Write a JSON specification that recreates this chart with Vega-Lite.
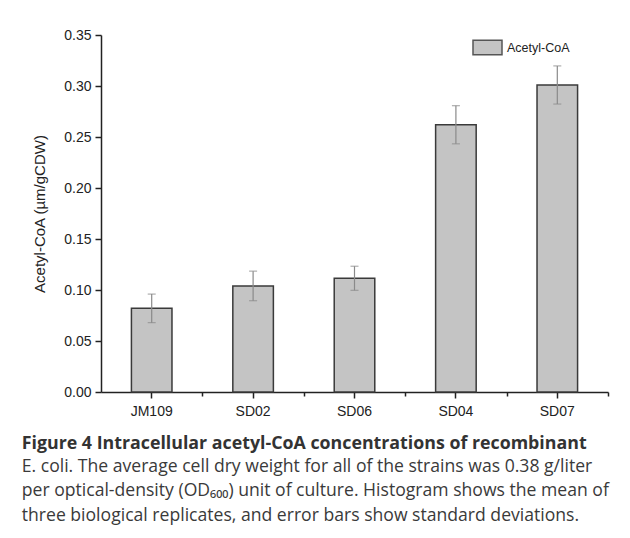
{
  "$schema": "https://vega.github.io/schema/vega-lite/v6.json",
  "autosize": "none",
  "width": 507,
  "height": 357,
  "padding": {"left": 101, "top": 35, "right": 22, "bottom": 146},
  "background": "white",
  "data": {"values": [
    {"strain": "JM109", "mean": 0.082, "sd": 0.014},
    {"strain": "SD02", "mean": 0.104, "sd": 0.0145},
    {"strain": "SD06", "mean": 0.1115, "sd": 0.0118},
    {"strain": "SD04", "mean": 0.262, "sd": 0.0187},
    {"strain": "SD07", "mean": 0.301, "sd": 0.0187}
  ]},
  "title": {
    "text": "Figure 4 Intracellular acetyl-CoA concentrations of recombinant",
    "subtitle": ["E. coli. The average cell dry weight for all of the strains was 0.38 g/liter", "per optical-density (OD₆₀₀) unit of culture. Histogram shows the mean of", "three biological replicates, and error bars show standard deviations."],
    "orient": "bottom",
    "anchor": "start",
    "frame": "bounds",
    "offset": 17,
    "dx": -11,
    "font": "Open Sans",
    "fontSize": 17.8,
    "fontWeight": "bold",
    "color": "#333333",
    "subtitleFont": "Open Sans",
    "subtitleFontSize": 17.6,
    "subtitleColor": "#3a3a3a",
    "subtitleLineHeight": 24.5,
    "subtitlePadding": 5
  },
  "layer": [
    {
      "mark": {"type": "bar", "stroke": "#3a3a3a", "strokeWidth": 1.5},
      "encoding": {
        "x": {
          "field": "strain",
          "type": "nominal",
          "sort": null,
          "scale": {"paddingInner": 0.6, "paddingOuter": 0.3},
          "axis": {
            "orient": "bottom",
            "title": null,
            "labelAngle": 0,
            "labelFont": "Liberation Sans",
            "labelFontSize": 14,
            "labelColor": "#222222",
            "labelPadding": 6,
            "tickSize": 6,
            "tickColor": "#222222",
            "tickWidth": 1.5,
            "domainColor": "#222222",
            "domainWidth": 1.5
          }
        },
        "y": {
          "field": "mean",
          "type": "quantitative",
          "title": "Acetyl-CoA (µm/gCDW)",
          "scale": {"domain": [0, 0.35], "nice": false},
          "axis": {
            "titleFont": "Liberation Sans",
            "titleFontSize": 15,
            "titleFontWeight": "normal",
            "titleColor": "#222222",
            "titlePadding": 16,
            "values": [0, 0.025, 0.05, 0.075, 0.1, 0.125, 0.15, 0.175, 0.2, 0.225, 0.25, 0.275, 0.3, 0.325, 0.35],
            "labelExpr": "round(datum.value*1000) % 50 === 0 ? format(datum.value, '.2f') : ''",
            "labelFont": "Liberation Sans",
            "labelFontSize": 14,
            "labelColor": "#222222",
            "labelPadding": 4,
            "tickSize": {"condition": {"test": "round(datum.value*1000) % 50 === 0", "value": 6}, "value": 3.5},
            "tickColor": "#222222",
            "tickWidth": 1.5,
            "domainColor": "#222222",
            "domainWidth": 1.5,
            "grid": false
          }
        },
        "color": {
          "datum": "Acetyl-CoA",
          "type": "nominal",
          "scale": {"range": ["#c4c4c4"]},
          "legend": {
            "title": null,
            "orient": "none",
            "legendX": 371,
            "legendY": -3,
            "padding": 0,
            "symbolType": "M-1,-0.5H1V0.5H-1Z",
            "symbolSize": 841,
            "symbolStrokeColor": "#555555",
            "symbolStrokeWidth": 1.5,
            "symbolFillColor": "#c4c4c4",
            "labelFont": "Liberation Sans",
            "labelFontSize": 12.5,
            "labelColor": "#222222",
            "labelOffset": 4
          }
        }
      }
    },
    {
      "mark": {"type": "point", "opacity": 0},
      "encoding": {
        "x": {
          "field": "strain",
          "type": "nominal",
          "sort": null,
          "axis": {
            "orient": "bottom",
            "title": null,
            "labels": false,
            "domain": false,
            "tickOffset": 50.7,
            "tickSize": 4,
            "tickColor": "#222222",
            "tickWidth": 1.5
          }
        },
        "y": {"field": "mean", "type": "quantitative", "title": "Acetyl-CoA (µm/gCDW)"}
      }
    },
    {
      "mark": {"type": "errorbar", "ticks": true, "color": "#8a8a8a", "size": 8, "thickness": 1.2},
      "encoding": {
        "x": {"field": "strain", "type": "nominal", "sort": null, "axis": null},
        "y": {"field": "mean", "type": "quantitative", "title": "Acetyl-CoA (µm/gCDW)"},
        "yError": {"field": "sd"}
      }
    }
  ],
  "resolve": {"axis": {"x": "independent"}},
  "config": {
    "font": "Liberation Sans",
    "view": {"stroke": null}
  }
}
